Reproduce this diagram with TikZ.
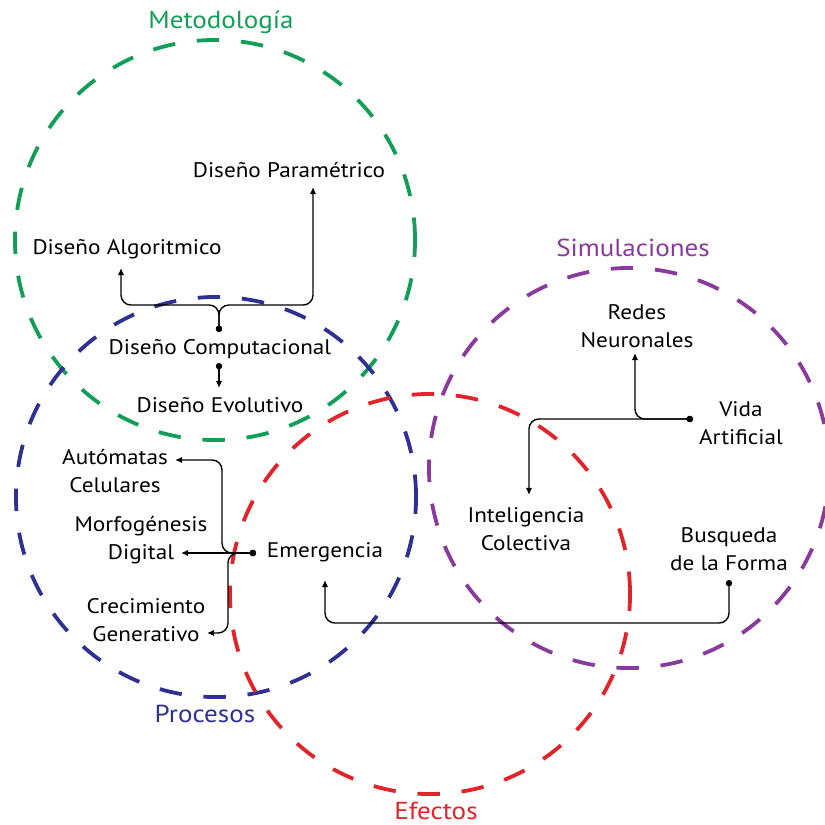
\documentclass[tikz,border=0pt]{standalone}
\usepackage{fontspec}
\setmainfont{PT Sans}[FakeStretch=1.1]
\usetikzlibrary{positioning, arrows.meta, calc}

\definecolor{metgreen}{HTML}{119E57}
\definecolor{procblue}{HTML}{2E3192}
\definecolor{efred}{HTML}{E2232A}
\definecolor{simpurple}{HTML}{8A3A9C}

\begin{document}
\begin{tikzpicture}[
      x=0.025cm, y=-0.025cm,
      % 円（領域）のスタイル
      ring/.style={circle, draw=#1, line width=2.7pt, dash pattern=on 16pt off 15.5pt, minimum size=10cm, inner sep=0pt},
      % 見出しのスタイル
      title/.style={text=#1, anchor=base, inner sep=1pt, font=\fontsize{17.5}{20}\selectfont},
      % 概念ノードのスタイル
      concept/.style={align=center, inner sep=2pt, font=\fontsize{15}{19.5}\selectfont},
      % 矢印のスタイル
      link/.style={draw, line width=1pt, rounded corners=7pt, {Circle[length=4.5pt]}-{Latex[length=5pt, width=4.5pt]}}
    ]
    \useasboundingbox (0,0) rectangle (825,825);

    % --- 4つの領域 ---
    \node [ring=metgreen] (metodologia) at (215,240) {};
    \node [ring=procblue] (procesos) at (216,497) {};
    \node [ring=efred] (efectos) at (430,594) {};
    \node [ring=simpurple] (simulaciones) at (629,468) {};

    \node [title=metgreen] (t-met) at (221,28) {Metodología};
    \node [title=procblue] (t-proc) at (205,722) {Procesos};
    \node [title=efred] (t-ef) at (436,819) {Efectos};
    \node [title=simpurple] (t-sim) at (633,256) {Simulaciones};

    % --- 概念 ---
    \node [concept] (param) at (289,170) {Diseño Paramétrico};
    \node [concept] (algo) at (127,249) {Diseño Algoritmico};
    \node [concept] (compu) at (220,349) {Diseño Computacional};
    \node [concept] (evol) at (220,405) {Diseño Evolutivo};
    \node [concept] (automatas) at (115,471) {Autómatas\\Celulares};
    \node [concept] (morfo) at (141,540) {Morfogénesis\\Digital};
    \node [concept] (crec) at (146,620) {Crecimiento\\Generativo};
    \node [concept] (emerg) at (325,552) {Emergencia};
    \node [concept] (redes) at (637,326) {Redes\\Neuronales};
    \node [concept] (vida) at (741,423) {Vida\\Artificial};
    \node [concept] (intel) at (526,529) {Inteligencia\\Colectiva};
    \node [concept] (busq) at (729,549) {Busqueda\\de la Forma};

    % --- 分岐点 ---
    \coordinate (c-dot) at ($(compu)+(-1,-17)$);
    \coordinate (c-split) at (219,305);
    \coordinate (e-dot) at ($(emerg)+(-69,1)$);
    \coordinate (v-dot) at ($(vida)+(-48,-4)$);
    \coordinate (b-dot) at ($(busq)+(0,31)$);

    % --- 矢印 ---
    \draw [link] (c-dot) -- (c-split) -| ($(algo)+(-6,19)$);
    \draw [link] (c-dot) -- (c-split) -| ($(param)+(24,17)$);
    \draw [link] ($(compu)+(-1,14)$) -- ($(evol)+(-1,-17)$);

    \draw [link] (e-dot) -- ($(morfo)+(40,13)$);
    \draw [link] (e-dot) -- ++(-34,0) |- ($(automatas)+(60,-11)$);
    \draw [link] (e-dot) -- ++(-28,0) |- ($(crec)+(61,13)$);

    \draw [link] (b-dot) -- ++(0,43) -| ($(emerg)+(0,28)$);
    \draw [link] (v-dot) -| ($(intel)+(3,-34)$);
    \draw [link] (v-dot) -| ($(redes)+(-2,27)$);

    \end{tikzpicture}
\end{document}
